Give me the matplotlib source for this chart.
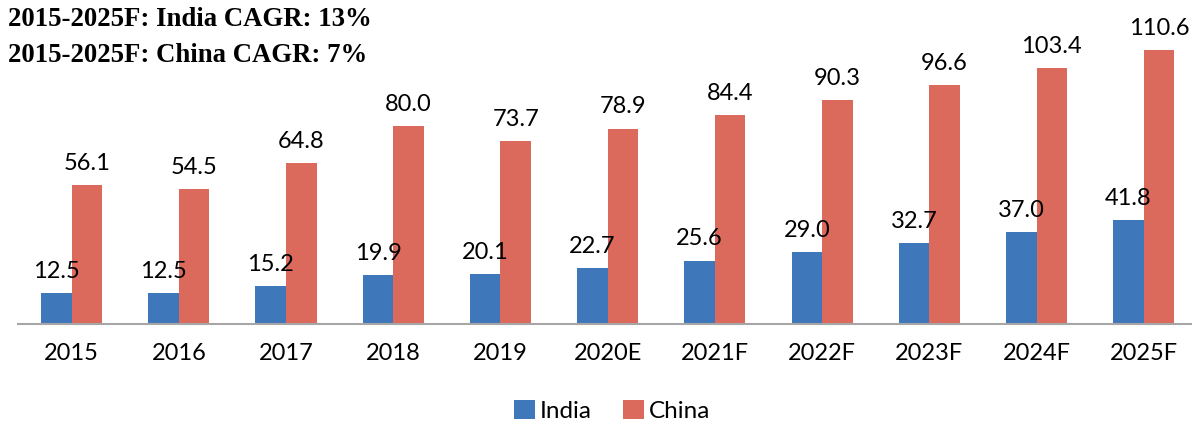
import numpy as np
import matplotlib.pyplot as plt

years = ["2015", "2016", "2017", "2018", "2019", "2020E", "2021F",
         "2022F", "2023F", "2024F", "2025F"]
india = [12.5, 12.5, 15.2, 19.9, 20.1, 22.7, 25.6, 29.0, 32.7, 37.0, 41.8]
china = [56.1, 54.5, 64.8, 80.0, 73.7, 78.9, 84.4, 90.3, 96.6, 103.4, 110.6]

blue = "#3F78BA"
red = "#DC6A5C"
label_font = "Lato"

fig = plt.figure(figsize=(11.92, 4.24), dpi=100)
ax = fig.add_axes([18 / 1192, 100 / 424, 1174 / 1192, 324 / 424])

x = np.arange(len(years))
w = 0.285
b1 = ax.bar(x - w / 2, india, w, color=blue, label="India")
b2 = ax.bar(x + w / 2, china, w, color=red, label="China")

for bars, vals in [(b1, india), (b2, china)]:
    for bar, v in zip(bars, vals):
        ax.annotate(f"{v:.1f}", (bar.get_x() + bar.get_width() / 2, v),
                    xytext=(0, 8), textcoords="offset points",
                    ha="center", va="bottom", fontsize=17, family=label_font)

ax.set_xlim(-0.5, 10.45)
ax.set_ylim(0, 130.8)
ax.set_xticks(x)
ax.set_xticklabels(years, fontsize=17, family=label_font)
ax.tick_params(axis="x", length=0, pad=14)
ax.set_yticks([])
for s in ["top", "right", "left"]:
    ax.spines[s].set_visible(False)
ax.spines["bottom"].set_color("#A6A6A6")
ax.spines["bottom"].set_linewidth(1.5)

fig.legend(loc="center", bbox_to_anchor=(612 / 1192, 1 - 411 / 424), ncol=2,
           frameon=False, handlelength=0.85, handleheight=0.85,
           handletextpad=0.2, columnspacing=1.3,
           prop={"family": label_font, "size": 17.5})

fig.text(8 / 1192, 1 - 20 / 424, "2015-2025F: India CAGR: 13%",
         family="Liberation Serif", weight="bold", fontsize=19.3, va="center")
fig.text(8 / 1192, 1 - 56 / 424, "2015-2025F: China CAGR: 7%",
         family="Liberation Serif", weight="bold", fontsize=19.3, va="center")

fig.savefig("out.png", dpi=100)
